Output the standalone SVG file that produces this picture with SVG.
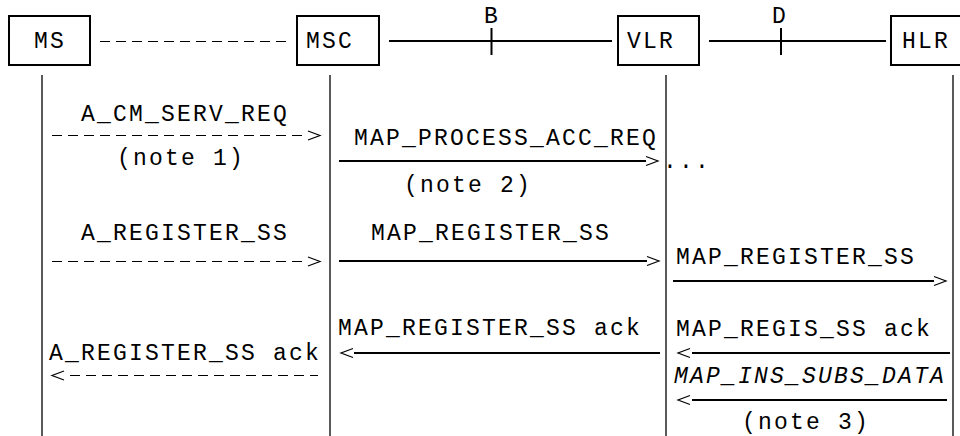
<svg xmlns="http://www.w3.org/2000/svg" width="960" height="436" viewBox="0 0 960 436">
<defs>
<style>
.t{font-family:"Courier New","Nimbus Mono PS","Liberation Mono",monospace;font-size:23px;letter-spacing:2.2px;fill:#000}
.it{font-style:italic}
.box{fill:#fff;stroke:#000;stroke-width:2}
.life{stroke:#000;stroke-width:1.3;fill:none}
.solid{stroke:#000;stroke-width:2;fill:none}
.dash{stroke:#000;stroke-width:1;stroke-dasharray:10 6;fill:none}
.head{stroke:#000;stroke-width:1.2;fill:none}
</style>
</defs>
<rect width="960" height="436" fill="#fff"/>
<g id="lifelines">
<line class="life" x1="42" y1="75" x2="42" y2="436"/>
<line class="life" x1="330" y1="75" x2="330" y2="436"/>
<line class="life" x1="666" y1="75" x2="666" y2="436"/>
<line class="life" x1="953" y1="75" x2="953" y2="436"/>
</g>
<g id="MS"><rect class="box" x="9" y="16" width="81" height="49"/><text class="t" x="34" y="48">MS</text></g>
<g id="MSC"><rect class="box" x="297" y="16" width="82" height="49"/><text class="t" x="306" y="48">MSC</text></g>
<g id="VLR"><rect class="box" x="618" y="16" width="81" height="49"/><text class="t" x="627" y="48">VLR</text></g>
<g id="HLR"><rect class="box" x="891" y="16" width="80" height="49"/><text class="t" x="902" y="48">HLR</text></g>
<g id="connectors">
<line class="dash" x1="100" y1="41.5" x2="290" y2="41.5"/>
<line class="solid" x1="389" y1="41" x2="612" y2="41"/>
<line class="solid" x1="491.5" y1="28" x2="491.5" y2="55"/>
<text class="t" x="484" y="23">B</text>
<line class="solid" x1="709" y1="41" x2="886" y2="41"/>
<line class="solid" x1="781" y1="28" x2="781" y2="55"/>
<text class="t" x="772" y="23">D</text>

<line class="dash" x1="52" y1="135.5" x2="308" y2="135.5"/>
<polyline class="head" points="308,131 320,135.5 308,140"/>

<line class="solid" x1="339" y1="161" x2="646" y2="161"/>
<polyline class="head" points="646,156.5 658,161 646,165.5"/>

<line class="dash" x1="52" y1="261.5" x2="308" y2="261.5"/>
<polyline class="head" points="308,257 320,261.5 308,266"/>

<line class="solid" x1="339" y1="261" x2="647" y2="261"/>
<polyline class="head" points="647,256.5 659,261 647,265.5"/>

<line class="solid" x1="673" y1="281" x2="934" y2="281"/>
<polyline class="head" points="934,276.5 946,281 934,285.5"/>

<line class="solid" x1="354" y1="353" x2="660" y2="353"/>
<polyline class="head" points="353,348.5 341,353 353,357.5"/>

<line class="dash" x1="70" y1="375.5" x2="318" y2="375.5"/>
<polyline class="head" points="64,371 52,375.5 64,380"/>

<line class="solid" x1="692" y1="353" x2="950" y2="353"/>
<polyline class="head" points="690,348.5 678,353 690,357.5"/>

<line class="solid" x1="692" y1="400" x2="947" y2="400"/>
<polyline class="head" points="690,395.5 678,400 690,404.5"/>
</g>
<g id="labels">
<text class="t" x="81" y="121">A_CM_SERV_REQ</text>
<text class="t" x="117" y="165">(note 1)</text>
<text class="t" x="354" y="145">MAP_PROCESS_ACC_REQ</text>
<text class="t" x="663" y="168">...</text>
<text class="t" x="404" y="192">(note 2)</text>
<text class="t" x="81" y="240">A_REGISTER_SS</text>
<text class="t" x="371" y="240">MAP_REGISTER_SS</text>
<text class="t" x="676" y="264">MAP_REGISTER_SS</text>
<text class="t" x="338" y="335">MAP_REGISTER_SS ack</text>
<text class="t" x="676" y="336">MAP_REGIS_SS ack</text>
<text class="t" x="49" y="360">A_REGISTER_SS ack</text>
<text class="t it" x="674" y="383">MAP_INS_SUBS_DATA</text>
<text class="t" x="742" y="429">(note 3)</text>
</g>
</svg>
